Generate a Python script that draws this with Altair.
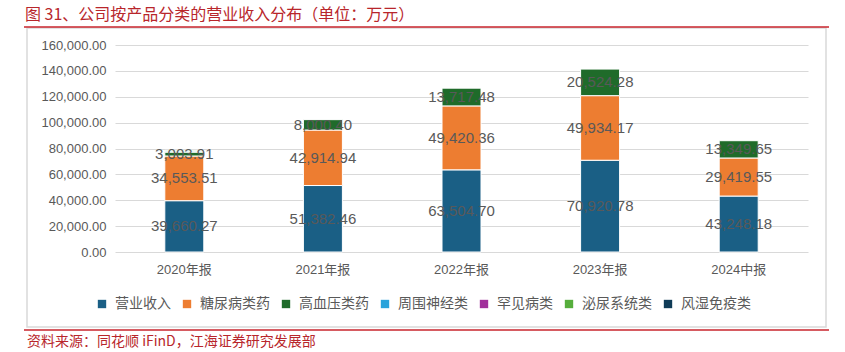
import altair as alt
import pandas as pd

# ---- data ----
years = ["2020年报", "2021年报", "2022年报", "2023年报", "2024中报"]
series = ["营业收入", "糖尿病类药", "高血压类药", "周围神经类", "罕见病类", "泌尿系统类", "风湿免疫类"]
colors = ["#1A5F85", "#ED7D31", "#1F6B2A", "#2AA3DB", "#A1309B", "#56AE3C", "#0F3B57"]

v_revenue = [39660.27, 51382.46, 63504.70, 70920.78, 43248.18]
v_diabetes = [34553.51, 42914.94, 49420.36, 49934.17, 29419.55]
v_hypertension = [3003.91, 8000.40, 13717.48, 20524.28, 13349.65]
v_neuro = [800.0, 0.0, 0.0, 0.0, 0.0]
v_rare = [0.0, 0.0, 0.0, 0.0, 0.0]
v_urinary = [600.0, 0.0, 0.0, 0.0, 0.0]
v_rheum = [0.0, 0.0, 0.0, 0.0, 0.0]

y_ticks = [0, 20000, 40000, 60000, 80000, 100000, 120000, 140000, 160000]

title_text = "图 31、公司按产品分类的营业收入分布（单位：万元）"
source_text = "资料来源：同花顺 iFinD，江海证券研究发展部"

all_values = [v_revenue, v_diabetes, v_hypertension, v_neuro, v_rare, v_urinary, v_rheum]
rows = []
for si, (name, vals) in enumerate(zip(series, all_values)):
    for yr, v in zip(years, vals):
        rows.append({"year": yr, "series": name, "idx": si, "value": v})
df = pd.DataFrame(rows)

gray = "#595959"

x_enc = alt.X(
    "year:N",
    sort=years,
    scale=alt.Scale(paddingInner=0, paddingOuter=0),
    axis=alt.Axis(
        title=None, labelAngle=0, domain=False, ticks=False, labelPadding=11,
        labelFont="Liberation Sans, Noto Sans CJK SC", labelFontSize=13, labelColor=gray,
    ),
)
y_scale = alt.Scale(domain=[0, 160000], nice=False)
y_axis = alt.Axis(
    title=None, values=y_ticks, format=",.2f", domain=False, ticks=False,
    labelPadding=9, labelFont="Liberation Sans", labelFontSize=13, labelColor=gray,
    grid=True, gridColor="#D9D9D9", gridWidth=1,
)

base = alt.Chart(df).transform_stack(
    stack="value", groupby=["year"],
    sort=[alt.SortField("idx", order="ascending")], as_=["y0", "y1"],
).transform_calculate(mid="(datum.y0 + datum.y1) / 2")

bars = base.transform_filter("datum.value > 0").mark_bar(
    size=39, stroke="white", strokeWidth=1
).encode(
    x=x_enc,
    y=alt.Y("y0:Q", scale=y_scale, axis=y_axis),
    y2="y1:Q",
    color=alt.Color(
        "series:N", sort=series,
        scale=alt.Scale(domain=series, range=colors),
        legend=alt.Legend(
            orient="none", legendX=-20, legendY=252, direction="horizontal", columns=7,
            title=None, symbolType="square", symbolSize=70, symbolStrokeWidth=0,
            labelFont="Noto Sans CJK SC", labelFontSize=14, labelColor=gray,
            columnPadding=9, labelOffset=6,
        ),
    ),
)

labels = base.transform_filter("datum.value >= 3000").mark_text(
    font="Liberation Sans", fontSize=15, color=gray, baseline="middle"
).encode(
    x=x_enc,
    y=alt.Y("mid:Q", scale=y_scale, axis=y_axis),
    text=alt.Text("value:Q", format=",.2f"),
)

one = pd.DataFrame({"a": [0]})
frame = alt.Chart(one).mark_rect(fillOpacity=0, stroke="#D9D9D9", strokeWidth=1.5).encode(
    x=alt.value(-88), x2=alt.value(711), y=alt.value(-17), y2=alt.value(282)
)
red_top = alt.Chart(one).mark_rule(color="#C9252C", strokeWidth=1.5).encode(
    x=alt.value(-91), x2=alt.value(714), y=alt.value(-18)
)
red_bottom = alt.Chart(one).mark_rule(color="#C9252C", strokeWidth=1.5).encode(
    x=alt.value(-91), x2=alt.value(714), y=alt.value(285)
)
title = alt.Chart(pd.DataFrame({"t": [title_text]})).mark_text(
    align="left", baseline="middle", font="Noto Sans CJK SC", fontSize=16, color="#B8262B"
).encode(x=alt.value(-90), y=alt.value(-30), text="t:N")
source = alt.Chart(pd.DataFrame({"t": [source_text]})).mark_text(
    align="left", baseline="middle", font="Noto Sans CJK SC", fontSize=14, color="#B8262B"
).encode(x=alt.value(-88), y=alt.value(297), text="t:N")

chart = alt.layer(frame, red_top, red_bottom, bars, labels, title, source).properties(
    width=693, height=207,
    autosize=alt.AutoSizeParams(type="none"),
    padding={"left": 115, "top": 45, "right": 37, "bottom": 100},
    background="white",
).configure_view(stroke=None)

chart.save("out.html", embed_options={"renderer": "svg", "actions": False})
